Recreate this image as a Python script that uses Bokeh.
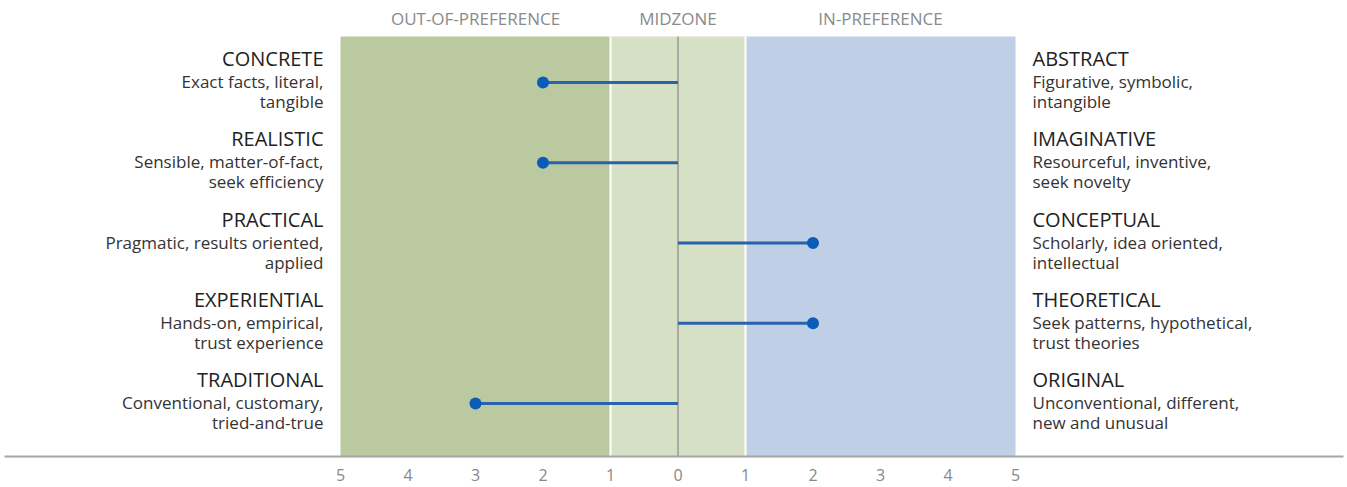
from bokeh.plotting import figure
from bokeh.models import Range1d, FixedTicker, ColumnDataSource
from bokeh.core.properties import value
from bokeh.embed import file_html
from bokeh.resources import INLINE

# ---- data ----
left_titles = ["CONCRETE", "REALISTIC", "PRACTICAL", "EXPERIENTIAL", "TRADITIONAL"]
left_line1 = ["Exact facts, literal,", "Sensible, matter-of-fact,", "Pragmatic, results oriented,",
              "Hands-on, empirical,", "Conventional, customary,"]
left_line2 = ["tangible", "seek efficiency", "applied", "trust experience", "tried-and-true"]
right_titles = ["ABSTRACT", "IMAGINATIVE", "CONCEPTUAL", "THEORETICAL", "ORIGINAL"]
right_line1 = ["Figurative, symbolic,", "Resourceful, inventive,", "Scholarly, idea oriented,",
               "Seek patterns, hypothetical,", "Unconventional, different,"]
right_line2 = ["intangible", "seek novelty", "intellectual", "trust theories", "new and unusual"]
scores = [-2, -2, 2, 2, -3]   # negative = toward left pole

zone_names = ["OUT-OF-PREFERENCE", "MIDZONE", "IN-PREFERENCE"]
zone_start = [-5, -1, 1]
zone_end = [-1, 1, 5]
tick_values = [-5, -4, -3, -2, -1, 0, 1, 2, 3, 4, 5]
tick_labels = ["5", "4", "3", "2", "1", "0", "1", "2", "3", "4", "5"]

# ---- style ----
zone_colors = ["#bac9a0", "#d6e0c5", "#bfcfe6"]
FONT = "Open Sans"
rows = list(range(len(left_titles)))

p = figure(width=1347, height=487, output_backend="svg", toolbar_location=None,
           x_range=Range1d(-9.9778, 9.8593), y_range=Range1d(4.6604, -1.0218),
           min_border_left=4, min_border_right=4, min_border_top=0, min_border_bottom=31)
p.outline_line_color = None
p.grid.visible = False
p.yaxis.visible = False
p.background_fill_color = "white"

band_top = -0.5732
band_bottom = 4.6604
p.quad(left=zone_start, right=zone_end, top=band_top, bottom=band_bottom,
       fill_color=zone_colors, line_color=None)
# white separators
p.segment(x0=[-1, 1], x1=[-1, 1], y0=band_top, y1=band_bottom, line_color="white", line_width=2)
# zero line
p.segment(x0=[0], x1=[0], y0=band_top, y1=band_bottom, line_color="#9a9a9a", line_width=1.5)

# zone headers
zone_mid = [(a + b) / 2 for a, b in zip(zone_start, zone_end)]
p.text(x=zone_mid, y=[-0.7975] * 3, text=zone_names, text_align="center", text_baseline="middle",
       text_font=value(FONT), text_font_size="17px", text_color="#8a8a8a")

src = ColumnDataSource(dict(y=rows, s=scores, z=[0] * len(rows),
                            lt=left_titles, l1=left_line1, l2=left_line2,
                            rt=right_titles, r1=right_line1, r2=right_line2,
                            lx=[-5] * len(rows), rx=[5] * len(rows)))

p.segment(x0="z", x1="s", y0="y", y1="y", source=src, line_color="#2a62ad", line_width=3)
p.scatter(x="s", y="y", source=src, size=12, fill_color="#0a5cb8", line_color=None)

for col, xcol, align, xoff in (("l", "lx", "right", -17), ("r", "rx", "left", 17)):
    p.text(x=xcol, y="y", text=col + "t", source=src, text_align=align, text_baseline="middle",
           x_offset=xoff, y_offset=-24, text_font=value(FONT), text_font_size="20px", text_color="#222222")
    p.text(x=xcol, y="y", text=col + "1", source=src, text_align=align, text_baseline="middle",
           x_offset=xoff, y_offset=-1, text_font=value(FONT), text_font_size="17px", text_color="#333333")
    p.text(x=xcol, y="y", text=col + "2", source=src, text_align=align, text_baseline="middle",
           x_offset=xoff, y_offset=19, text_font=value(FONT), text_font_size="17px", text_color="#333333")

ax = p.xaxis[0]
ax.ticker = FixedTicker(ticks=tick_values)
ax.major_label_overrides = {v: l for v, l in zip(tick_values, tick_labels)}
ax.axis_line_color = "#a6a6a6"
ax.axis_line_width = 2
ax.major_tick_line_color = None
ax.minor_tick_line_color = None
ax.major_label_text_color = "#888888"
ax.major_label_text_font = FONT
ax.major_label_text_font_size = "16px"
ax.major_label_standoff = 6

open("out.html", "w").write(file_html(p, INLINE))
